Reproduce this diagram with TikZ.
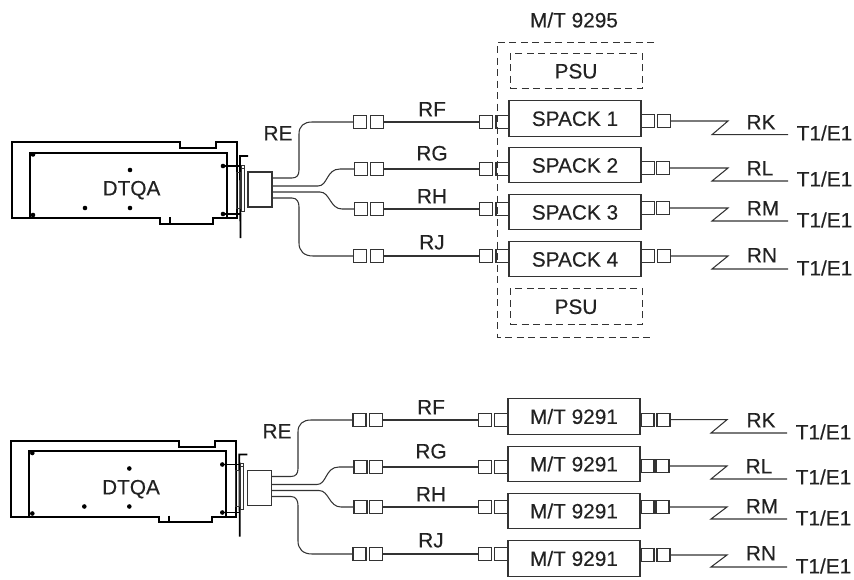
\documentclass[tikz,border=0pt]{standalone}
\usepackage{fontspec}
\setmainfont{Liberation Sans}[FakeBold=0.3]
\definecolor{ink}{HTML}{222222}
\definecolor{wire}{HTML}{333333}
\tikzset{
  x=1pt,y=-1pt,
  lbl/.style={inner sep=0pt,text height=14.8pt,text depth=0pt,text=ink,font=\fontsize{20.8}{22}\selectfont},
  sq/.style={draw=wire,line width=1.05pt,minimum width=13pt,minimum height=13pt,inner sep=0pt,rectangle},
  unit/.style={draw=wire,line width=1.05pt,minimum width=132pt,minimum height=35.5pt,inner sep=0pt,rectangle,lbl},
  psu/.style={draw=wire,line width=1pt,dash pattern=on 7pt off 4.5pt,minimum width=132pt,minimum height=35.5pt,inner sep=0pt,rectangle,lbl},
  frame/.style={draw=wire,line width=1pt,dash pattern=on 7pt off 4.5pt},
  cable/.style={draw=wire,line width=1.05pt},
  heavy/.style={draw=black,line width=2pt,line join=miter},
  med/.style={draw=black,line width=1.2pt},
  hole/.style={circle,fill=black,inner sep=0pt,minimum size=4.6pt},
}
% left part: card and fan-out cable head; #1 prefix
\newcommand\cardpart[1]{%
  \draw[heavy] (12,218) -- (12,142) -- (180,142) -- (180,148) -- (216,148) -- (216,142) -- (237,142) -- (237,218) -- (213,218) -- (213,223.5) -- (159.5,223.5) -- (159.5,218) -- cycle;
  \draw[heavy] (30,218) -- (30,152.5) -- (227,152.5) -- (227,218);
  \foreach \hx/\hy in {33/154.5,33/215,130/170,85/208,130/208,223/166,223/214}
    \node[hole] at (\hx,\hy) {};
  \draw[med,line width=1.8pt] (170,217) -- (170,224);
  \draw[med] (223,166) -- (240,166) (223,214) -- (240,214);
  \draw[med,line width=1.8pt] (248,156) -- (240,156) -- (240.5,238);
  \draw[wire,line width=1pt] (236,172) rectangle (240,208);
  \draw[wire,line width=1pt] (241,168) rectangle (244,211);
  \draw[wire,line width=1pt] (241,168) -- (241,165) -- (244,165) -- (244,168);
  \node[draw=wire,line width=1.05pt,rectangle,inner sep=0pt,minimum width=24pt,minimum height=35pt] (#1shell) at (260,189.5) {};
}
\begin{document}
\begin{tikzpicture}
\useasboundingbox (0,0) rectangle (854,579);

% ---------- top panel ----------
\begin{scope}
  \cardpart{t}
\end{scope}
\node[lbl] (tcard) at (131.5,188) {DTQA};
\node[lbl] (tRE) at (278,133) {RE};
\node[lbl] (tframe) at (574,20) {M/T 9295};
\draw[frame] (654,42) -- (497,42) -- (497,337) -- (654,337);
\node[psu] (tpsuA) at (576,71) {PSU};
\node[psu] (tpsuB) at (576,306.5) {PSU};

\foreach \n/\wy/\cy/\txt/\ax/\bx/\dx/\ly/\zy/\rl/\rx/\ry/\ty/\fl/\fy in {
  1/122/118.5/SPACK 1/360/377/664/121/134.7/RK/761/122/133/RF/109,
  2/169/165.2/SPACK 2/361/377/663/168/181/RL/760/168/179/RG/153,
  3/209/212.2/SPACK 3/361/377/663/208/221/RM/763/208/220/RH/196,
  4/256/259.2/SPACK 4/360/377/664/256/269/RN/762/255/268/RJ/242}{
  \node[unit] (tb\n) at (575,\cy) {\txt};
  \node[sq] (ta\n) at (\ax,\wy) {};
  \node[sq] (tc\n) at (\bx,\wy) {};
  \node[sq] (td\n) at (486,\wy) {};
  \node[sq] (te\n) at (502.5,\wy) {};
  \node[sq] (tf\n) at (648,\ly) {};
  \node[sq] (tg\n) at (\dx,\ly) {};
  \draw[cable] (tc\n) -- (td\n);
  \coordinate (tz\n) at (728,\ly);
  \coordinate (ty\n) at (712,\zy);
  \coordinate (tx\n) at (788,\zy);
  \draw[cable] (tg\n.east) -- (tz\n) -- (ty\n) -- (tx\n);
  \node[lbl] (tr\n) at (\rx,\ry) {\rl};
  \node[lbl] (tt\n) at (824.5,\ty) {T1/E1};
  \node[lbl] (tn\n) at (432,\fy) {\fl};
}
\draw[cable] (tshell.east |- 0,178) -- (292,178) .. controls (297,178) and (299,175) .. (299,170) -- (299,134) .. controls (299,126) and (304,122) .. (312,122) -- (ta1.west);
\draw[cable] (tshell.east |- 0,186) -- (318,186) .. controls (328,186) and (326,169) .. (340,169) -- (ta2.west);
\draw[cable] (tshell.east |- 0,192) -- (320,192) .. controls (330,192) and (330,209) .. (342,209) -- (ta3.west);
\draw[cable] (tshell.east |- 0,198) -- (292,198) .. controls (297,198) and (299,202) .. (299,207) -- (299,243) .. controls (299,251) and (304,256) .. (313,256) -- (ta4.west);

% ---------- bottom panel ----------
\begin{scope}[shift={(-0.7,298.5)}]
  \cardpart{b}
\end{scope}
\node[lbl] (bcard) at (131,487) {DTQA};
\node[lbl] (bRE) at (277,431) {RE};

\foreach \n/\wy/\cy/\ax/\dx/\ly/\zy/\rl/\rx/\ry/\ty/\fl/\fy in {
  1/420/416.5/359.5/663.5/419.7/433/RK/761/420/432/RF/407,
  2/467/464/360.5/662.5/466/479/RL/759/466/477/RG/451,
  3/507/511/360.5/662.5/507/519/RM/762/506/518/RH/494,
  4/554/558.5/359.5/663.5/555/567/RN/761/553/566/RJ/540}{
  \node[unit] (bb\n) at (574,\cy) {M/T 9291};
  \node[sq] (ba\n) at (\ax,\wy) {};
  \node[sq] (bc\n) at (376,\wy) {};
  \node[sq] (bd\n) at (485,\wy) {};
  \node[sq] (be\n) at (501,\wy) {};
  \node[sq] (bf\n) at (647.5,\ly) {};
  \node[sq] (bg\n) at (\dx,\ly) {};
  \draw[cable] (bc\n) -- (bd\n);
  \coordinate (bz\n) at (727,\ly);
  \coordinate (by\n) at (711,\zy);
  \coordinate (bx\n) at (787,\zy);
  \draw[cable] (bg\n.east) -- (bz\n) -- (by\n) -- (bx\n);
  \node[lbl] (br\n) at (\rx,\ry) {\rl};
  \node[lbl] (bt\n) at (823.5,\ty) {T1/E1};
  \node[lbl] (bn\n) at (431,\fy) {\fl};
}
\draw[cable] (bshell.east |- 0,476.5) -- (291,476.5) .. controls (296,476.5) and (298,473.5) .. (298,468.5) -- (298,432) .. controls (298,424) and (303,420) .. (311,420) -- (ba1.west);
\draw[cable] (bshell.east |- 0,484.5) -- (317,484.5) .. controls (327,484.5) and (325,467) .. (339,467) -- (ba2.west);
\draw[cable] (bshell.east |- 0,490.5) -- (319,490.5) .. controls (329,490.5) and (329,507) .. (341,507) -- (ba3.west);
\draw[cable] (bshell.east |- 0,496.5) -- (291,496.5) .. controls (296,496.5) and (298,500.5) .. (298,505.5) -- (298,541) .. controls (298,549) and (303,554) .. (312,554) -- (ba4.west);
\end{tikzpicture}
\end{document}
